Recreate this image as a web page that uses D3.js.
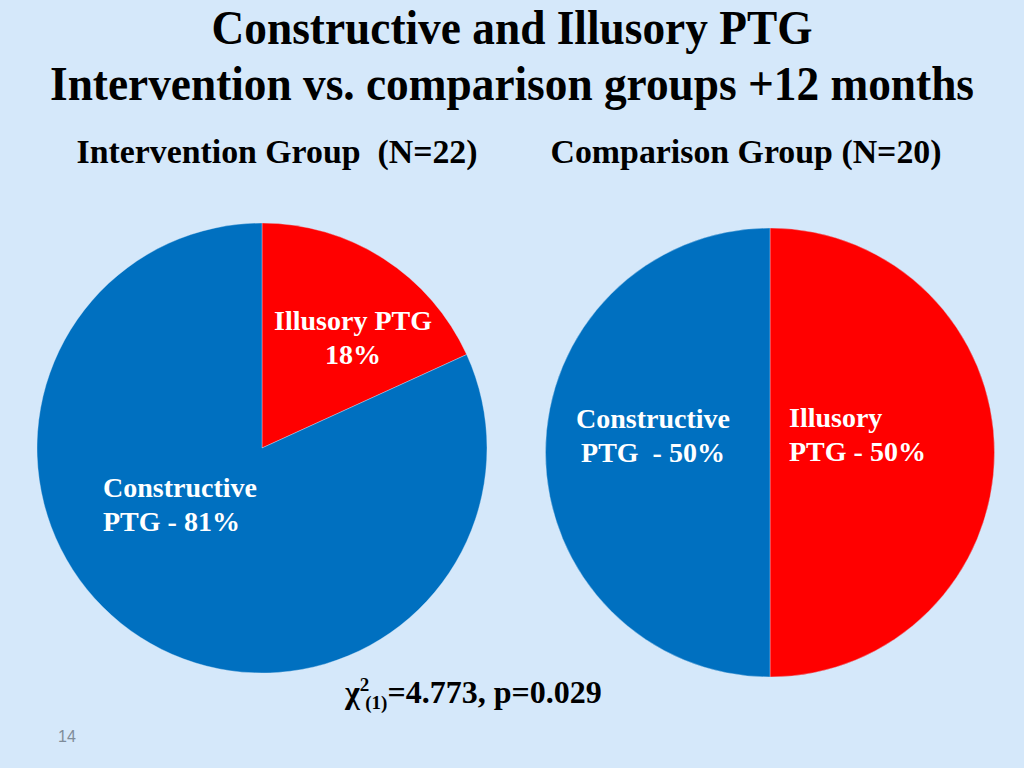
<!DOCTYPE html>
<html><head><meta charset="utf-8">
<script src="https://cdn.jsdelivr.net/npm/d3@7"></script>
<style>html,body{margin:0;padding:0;background:#D5E8FA;}svg{display:block;}</style>
</head><body>
<script>
const categories = ["Illusory PTG", "Constructive PTG"];
const interventionValues = [18, 81];
const comparisonValues = [50, 50];
const titleLines = ["Constructive and Illusory PTG", "Intervention vs. comparison groups +12 months"];
const groupTitles = ["Intervention Group \u00A0(N=22)", "Comparison Group (N=20)"];
const colors = ["#FF0000", "#0070C0"];

const W = 1024, H = 768;
const svg = d3.select("body").append("svg").attr("width", W).attr("height", H);
svg.append("rect").attr("width", W).attr("height", H).attr("fill", "#D5E8FA");

const serif = "'Liberation Serif','Times New Roman',serif";
const color = d3.scaleOrdinal().domain(categories).range(colors);

// titles (vertically stretched to mimic the condensed face)
const tl = [{t: titleLines[0], x: 512, y: 44, w: 601}, {t: titleLines[1], x: 512, y: 100, w: 924}];
tl.forEach(d => svg.append("text")
  .attr("transform", `translate(${d.x},${d.y}) scale(1,1.11)`)
  .attr("text-anchor", "middle")
  .attr("font-family", serif).attr("font-weight", "bold").attr("font-size", 44)
  .attr("textLength", d.w).attr("lengthAdjust", "spacingAndGlyphs").attr("fill", "#000").text(d.t));

const gt = [{t: groupTitles[0], x: 277, w: 401}, {t: groupTitles[1], x: 746, w: 391}];
gt.forEach(d => svg.append("text").attr("x", d.x).attr("y", 163).attr("text-anchor", "middle")
  .attr("font-family", serif).attr("font-weight", "bold").attr("font-size", 34)
  .attr("textLength", d.w).attr("lengthAdjust", "spacingAndGlyphs").attr("fill", "#000").text(d.t));

const pie = d3.pie().sort(null).value(d => d.v);
function drawPie(values, cx, cy, r) {
  const data = categories.map((c, i) => ({c, v: values[i]}));
  const arc = d3.arc().innerRadius(0).outerRadius(r);
  const g = svg.append("g").attr("transform", `translate(${cx},${cy})`);
  g.selectAll("path").data(pie(data)).join("path")
    .attr("d", arc).attr("fill", d => color(d.data.c))
    .attr("stroke", "#D5E8FA").attr("stroke-width", 0.6).attr("stroke-opacity", 0.6);
  return g;
}
drawPie(interventionValues, 262, 448, 225);
drawPie(comparisonValues, 770, 452.5, 224.5);

function label(lines, x, y, anchor) {
  const t = svg.append("text").attr("x", x).attr("y", y).attr("text-anchor", anchor)
    .attr("font-family", serif).attr("font-weight", "bold").attr("font-size", 28).attr("fill", "#fff");
  lines.forEach((l, i) => t.append("tspan").attr("x", x).attr("dy", i ? 34 : 0).text(l));
}
label([categories[0], interventionValues[0] + "%"], 353, 330, "middle");
label(["Constructive", "PTG - " + interventionValues[1] + "%"], 103, 497, "start");
label(["Constructive", "PTG \u00A0- " + comparisonValues[1] + "%"], 653, 428, "middle");
label(["Illusory", "PTG - " + comparisonValues[0] + "%"], 789, 427, "start");

// chi-square
const chi = svg.append("text").attr("x", 345).attr("y", 703).attr("font-family", serif)
  .attr("font-weight", "bold").attr("font-size", 32).attr("fill", "#000");
chi.append("tspan").text("\u03C7");
chi.append("tspan").attr("font-size", 19).attr("dy", -12).text("2");
chi.append("tspan").attr("font-size", 19).attr("dx", -4).attr("dy", 18).text("(1)");
chi.append("tspan").attr("dy", -6).text("=4.773, p=0.029");

svg.append("text").attr("x", 58).attr("y", 742).attr("font-family", "'Liberation Sans',Arial,sans-serif")
  .attr("font-size", 16).attr("fill", "#7F8C99").text("14");
</script>
</body></html>
